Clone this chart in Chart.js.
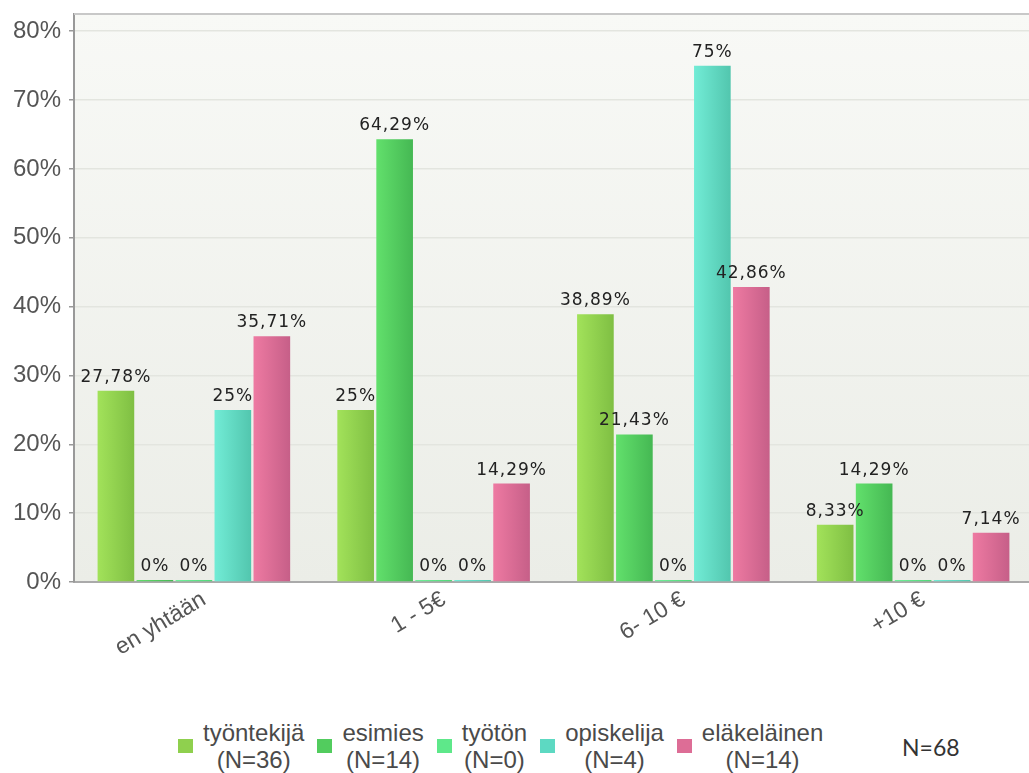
<!DOCTYPE html>
<html>
<head>
<meta charset="utf-8">
<script src="https://cdn.jsdelivr.net/npm/chart.js@4.4.0/dist/chart.umd.min.js"></script>
<style>
  html, body { margin: 0; padding: 0; background: #fff; overflow: hidden; }
  #wrap { position: relative; width: 1029px; height: 773px; overflow: hidden; }
  #chart { position: absolute; left: 0; top: 0; }
  #legend {
    position: absolute; left: 178px; top: 719px; display: flex; align-items: center;
    font-family: "Liberation Sans", Arial, sans-serif; font-size: 24px; line-height: 27px; color: #4a4a4a;
  }
  .item { display: flex; align-items: center; margin-right: 13px; }
  .box { width: 15px; height: 14px; margin-right: 10px; }
  .txt { text-align: center; white-space: nowrap; }
  #total { position: absolute; left: 902px; top: 733px; font-family: Lato, sans-serif; font-size: 23px; color: #333; }
</style>
</head>
<body>
<div id="wrap">
  <canvas id="chart" width="1033" height="700"></canvas>
  <div id="legend"></div>
  <div id="total"></div>
</div>
<script>
  const categories = ["en yhtään", "1 - 5€", "6- 10 €", "+10 €"];
  const seriesNames = ["työntekijä", "esimies", "työtön", "opiskelija", "eläkeläinen"];
  const seriesCounts = [36, 14, 0, 4, 14];
  const totalCount = 68;
  const yTicks = [0, 10, 20, 30, 40, 50, 60, 70, 80];

  const tyontekija = [27.78, 25, 38.89, 8.33];
  const esimies = [0, 64.29, 21.43, 14.29];
  const tyoton = [0, 0, 0, 0];
  const opiskelija = [25, 0, 75, 0];
  const elakelainen = [35.71, 14.29, 42.86, 7.14];

  const seriesData = [tyontekija, esimies, tyoton, opiskelija, elakelainen];
  const lightColors = ["#a2e25a", "#62e06c", "#72f09a", "#72ecd6", "#ee7aa2"];
  const darkColors = ["#7fbf43", "#45b853", "#4fd878", "#52c6ae", "#c65f88"];
  const legendColors = ["#8fd04e", "#52cc5e", "#5ee88a", "#5dd9c2", "#dd6d96"];

  const CAT_PCT = 0.813;
  const BAR_PCT = 0.94;

  function fmt(v) {
    return String(v).replace(".", ",") + "%";
  }

  // horizontal shading on each bar, like the original
  function barFill(i) {
    return function (c) {
      const chart = c.chart;
      const x = chart.scales.x;
      if (c.type !== "data" || !x || !chart.chartArea) return legendColors[i];
      const cat = x.getPixelForValue(c.dataIndex);
      const group = (x.width / categories.length) * CAT_PCT;
      const slot = group / seriesNames.length;
      const left = cat - group / 2 + slot * c.datasetIndex + (slot * (1 - BAR_PCT)) / 2;
      const g = chart.ctx.createLinearGradient(left, 0, left + slot * BAR_PCT, 0);
      g.addColorStop(0, lightColors[i]);
      g.addColorStop(1, darkColors[i]);
      return g;
    };
  }

  const plotBackground = {
    id: "plotBackground",
    beforeDraw(chart) {
      const a = chart.chartArea;
      const ctx = chart.ctx;
      const g = ctx.createLinearGradient(0, a.top, 0, a.bottom);
      g.addColorStop(0, "#f8f9f6");
      g.addColorStop(1, "#ebede7");
      ctx.save();
      ctx.fillStyle = g;
      ctx.fillRect(a.left, a.top, a.right - a.left, a.bottom - a.top);
      ctx.restore();
    },
    afterDraw(chart) {
      const a = chart.chartArea;
      const ctx = chart.ctx;
      ctx.save();
      ctx.strokeStyle = "#c8c8c8";
      ctx.lineWidth = 2;
      ctx.beginPath();
      ctx.moveTo(a.left, a.top);
      ctx.lineTo(a.right, a.top);
      ctx.stroke();
      ctx.restore();
    },
  };

  const valueLabels = {
    id: "valueLabels",
    afterDatasetsDraw(chart) {
      const ctx = chart.ctx;
      ctx.save();
      ctx.font = "17px 'DejaVu Sans', sans-serif";
      ctx.letterSpacing = "1px";
      ctx.fillStyle = "#222";
      ctx.textAlign = "center";
      ctx.textBaseline = "bottom";
      chart.data.datasets.forEach((ds, di) => {
        const meta = chart.getDatasetMeta(di);
        meta.data.forEach((bar, i) => {
          ctx.fillText(fmt(ds.data[i]), bar.x, bar.y - 5);
        });
      });
      ctx.restore();
    },
  };

  new Chart(document.getElementById("chart"), {
    type: "bar",
    data: {
      labels: categories,
      datasets: seriesNames.map((name, i) => ({
        label: name,
        data: seriesData[i],
        backgroundColor: barFill(i),
        borderWidth: 0,
        minBarLength: 2,
        categoryPercentage: CAT_PCT,
        barPercentage: BAR_PCT,
      })),
    },
    options: {
      responsive: false,
      animation: false,
      layout: { padding: { top: 14, right: 0, bottom: 0, left: 0 } },
      plugins: { legend: { display: false }, tooltip: { enabled: false } },
      scales: {
        x: {
          grid: { display: false },
          border: { display: true, color: "#aaa", width: 2 },
          ticks: {
            color: "#555",
            font: { family: "'Liberation Sans', Arial, sans-serif", size: 23 },
            minRotation: 31,
            maxRotation: 31,
            padding: -4,
            labelOffset: 10,
          },
          afterFit: (s) => { s.height = 118; s.paddingLeft = 0; s.paddingRight = 0; },
        },
        y: {
          min: 0,
          max: 82.5,
          border: { display: true, color: "#999", width: 2 },
          grid: { color: "#e3e5df", lineWidth: 1.5, tickLength: 5, tickColor: "#999" },
          ticks: {
            color: "#555",
            padding: 8,
            font: { family: "'Liberation Sans', Arial, sans-serif", size: 24 },
            callback: (v) => v + "%",
          },
          afterBuildTicks: (s) => { s.ticks = yTicks.map((v) => ({ value: v })); },
          afterFit: (s) => { s.width = 74; s.paddingTop = 0; s.paddingBottom = 0; },
        },
      },
    },
    plugins: [plotBackground, valueLabels],
  });

  const legend = document.getElementById("legend");
  seriesNames.forEach((name, i) => {
    const item = document.createElement("div");
    item.className = "item";
    const box = document.createElement("div");
    box.className = "box";
    box.style.background = legendColors[i];
    const txt = document.createElement("div");
    txt.className = "txt";
    txt.innerHTML = name + "<br>(N=" + seriesCounts[i] + ")";
    item.appendChild(box);
    item.appendChild(txt);
    legend.appendChild(item);
  });
  document.getElementById("total").textContent = "N=" + totalCount;
</script>
</body>
</html>
